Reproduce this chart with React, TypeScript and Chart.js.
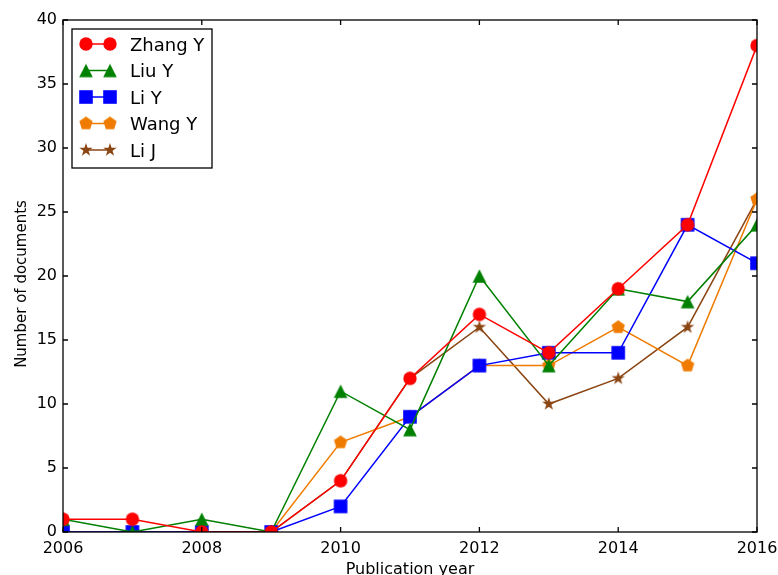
import { useEffect, useRef } from 'react';
import { Chart, registerables } from 'chart.js';

Chart.register(...registerables);

// Publication counts per author, 2006–2016
const years = [2006, 2007, 2008, 2009, 2010, 2011, 2012, 2013, 2014, 2015, 2016];
const zhangY = [1, 1, 0, 0, 4, 12, 17, 14, 19, 24, 38];
const liuY = [1, 0, 1, 0, 11, 8, 20, 13, 19, 18, 24];
const liY = [0, 0, 0, 0, 2, 9, 13, 14, 14, 24, 21];
const wangY = [0, 0, 0, 0, 7, 9, 13, 13, 16, 13, 26];
const liJ = [0, 0, 0, 0, 4, 12, 16, 10, 12, 16, 26];

const authors = ['Zhang Y', 'Liu Y', 'Li Y', 'Wang Y', 'Li J'];
const xTicks = [2006, 2008, 2010, 2012, 2014, 2016];
const yTicks = [0, 5, 10, 15, 20, 25, 30, 35, 40];

const FONT = "'DejaVu Sans', sans-serif";

type Shape = 'circle' | 'triangle' | 'square' | 'pentagon' | 'star';

// Draws a filled marker onto a small offscreen canvas used as a point style
function makeMarker(shape: Shape, color: string): HTMLCanvasElement {
  const size = 18;
  const c = document.createElement('canvas');
  c.width = size;
  c.height = size;
  const ctx = c.getContext('2d')!;
  const cx = size / 2;
  const cy = size / 2;
  ctx.fillStyle = color;
  ctx.beginPath();
  if (shape === 'circle') {
    ctx.arc(cx, cy, 6.7, 0, Math.PI * 2);
  } else if (shape === 'square') {
    ctx.rect(cx - 6.8, cy - 6.8, 13.6, 13.6);
  } else if (shape === 'triangle') {
    ctx.moveTo(cx, cy - 6.8);
    ctx.lineTo(cx + 6.8, cy + 6.8);
    ctx.lineTo(cx - 6.8, cy + 6.8);
    ctx.closePath();
  } else if (shape === 'pentagon') {
    const r = 7;
    for (let i = 0; i < 5; i++) {
      const a = -Math.PI / 2 + (i * 2 * Math.PI) / 5;
      const px = cx + r * Math.cos(a);
      const py = cy + r * Math.sin(a);
      if (i === 0) ctx.moveTo(px, py);
      else ctx.lineTo(px, py);
    }
    ctx.closePath();
  } else {
    const r = 7;
    const ri = r * 0.381966;
    for (let i = 0; i < 10; i++) {
      const a = -Math.PI / 2 + (i * Math.PI) / 5;
      const rr = i % 2 === 0 ? r : ri;
      const px = cx + rr * Math.cos(a);
      const py = cy + rr * Math.sin(a);
      if (i === 0) ctx.moveTo(px, py);
      else ctx.lineTo(px, py);
    }
    ctx.closePath();
  }
  ctx.fill();
  return c;
}

export default function App() {
  const canvasRef = useRef<HTMLCanvasElement | null>(null);

  useEffect(() => {
    const canvas = canvasRef.current;
    if (!canvas) return;

    const seriesValues = [zhangY, liuY, liY, wangY, liJ];
    const colors = ['#ff0000', '#008000', '#0000ff', '#ef7c00', '#8b4513'];
    const shapes: Shape[] = ['circle', 'triangle', 'square', 'pentagon', 'star'];
    const markers = shapes.map((s, i) => makeMarker(s, colors[i]));

    const datasets = authors.map((name, i) => ({
      label: name,
      data: years.map((yr, j) => ({ x: yr, y: seriesValues[i][j] })),
      borderColor: colors[i],
      backgroundColor: colors[i],
      borderWidth: 1.5,
      pointStyle: markers[i],
      pointRadius: 7,
      pointHoverRadius: 7,
      tension: 0,
      clip: 0,
    }));

    // Box frame with inward ticks, axis titles and the legend
    const framePlugin = {
      id: 'frameAndLegend',
      afterDraw(chart: any) {
        const { ctx, chartArea } = chart;
        const { left, right, top, bottom } = chartArea;
        const xs = chart.scales.x;
        const ys = chart.scales.y;
        const tickLen = 5;
        ctx.save();
        ctx.strokeStyle = '#000';
        ctx.lineWidth = 1.3;
        ctx.strokeRect(left, top, right - left, bottom - top);
        ctx.beginPath();
        for (const v of xTicks) {
          const px = xs.getPixelForValue(v);
          ctx.moveTo(px, bottom);
          ctx.lineTo(px, bottom - tickLen);
          ctx.moveTo(px, top);
          ctx.lineTo(px, top + tickLen);
        }
        for (const v of yTicks) {
          const py = ys.getPixelForValue(v);
          ctx.moveTo(left, py);
          ctx.lineTo(left + tickLen, py);
          ctx.moveTo(right, py);
          ctx.lineTo(right - tickLen, py);
        }
        ctx.stroke();

        // axis titles
        ctx.fillStyle = '#000';
        ctx.font = `16px ${FONT}`;
        ctx.textAlign = 'center';
        ctx.textBaseline = 'alphabetic';
        ctx.fillText('Publication year', (left + right) / 2, 573.5);
        ctx.save();
        ctx.font = `15px ${FONT}`;
        ctx.translate(25.5, (top + bottom) / 2 + 8);
        ctx.rotate(-Math.PI / 2);
        ctx.fillText('Number of documents', 0, 0);
        ctx.restore();

        // legend
        const lx = left + 9;
        const ly = top + 9;
        ctx.fillStyle = '#fff';
        ctx.fillRect(lx, ly, 140, 139);
        ctx.lineWidth = 1.3;
        ctx.strokeStyle = '#000';
        ctx.strokeRect(lx, ly, 140, 139);
        ctx.font = `18px ${FONT}`;
        ctx.textAlign = 'left';
        authors.forEach((name, i) => {
          const ry = ly + 15 + i * 26.5;
          const m1 = lx + 14;
          const m2 = lx + 38;
          ctx.strokeStyle = colors[i];
          ctx.lineWidth = 1.5;
          ctx.beginPath();
          ctx.moveTo(m1, ry);
          ctx.lineTo(m2, ry);
          ctx.stroke();
          const mk = markers[i];
          ctx.drawImage(mk, m1 - mk.width / 2, ry - mk.height / 2);
          ctx.drawImage(mk, m2 - mk.width / 2, ry - mk.height / 2);
          ctx.fillStyle = '#000';
          ctx.fillText(name, lx + 58, ry + 6.6);
        });
        ctx.restore();
      },
    };

    const chart = new Chart(canvas, {
      type: 'line',
      data: { datasets },
      options: {
        responsive: false,
        animation: false,
        events: [],
        layout: { padding: { top: 20, right: 21, left: 0, bottom: 0 } },
        plugins: {
          legend: { display: false },
          tooltip: { enabled: false },
        },
        scales: {
          x: {
            type: 'linear',
            min: 2006,
            max: 2016,
            afterBuildTicks: (s: any) => {
              s.ticks = xTicks.map((v) => ({ value: v }));
            },
            afterFit: (s: any) => {
              s.height = 43;
              s.paddingLeft = 0;
              s.paddingRight = 0;
            },
            grid: { display: false, drawTicks: false },
            border: { display: false },
            ticks: {
              color: '#000',
              font: { family: FONT, size: 16 },
              padding: 7,
              maxRotation: 0,
              autoSkip: false,
              callback: (v: any) => String(v),
            },
          },
          y: {
            type: 'linear',
            min: 0,
            max: 40,
            afterBuildTicks: (s: any) => {
              s.ticks = yTicks.map((v) => ({ value: v }));
            },
            afterFit: (s: any) => {
              s.width = 63;
              s.paddingTop = 0;
              s.paddingBottom = 0;
            },
            grid: { display: false, drawTicks: false },
            border: { display: false },
            ticks: {
              color: '#000',
              font: { family: FONT, size: 16 },
              padding: 6,
              autoSkip: false,
              callback: (v: any) => String(v),
            },
          },
        },
      },
      plugins: [framePlugin],
    } as any);

    return () => chart.destroy();
  }, []);

  return (
    <div style={{ position: 'fixed', left: 0, top: 0, width: 778, height: 575, background: '#fff' }}>
      <canvas ref={canvasRef} width={778} height={575} />
    </div>
  );
}
